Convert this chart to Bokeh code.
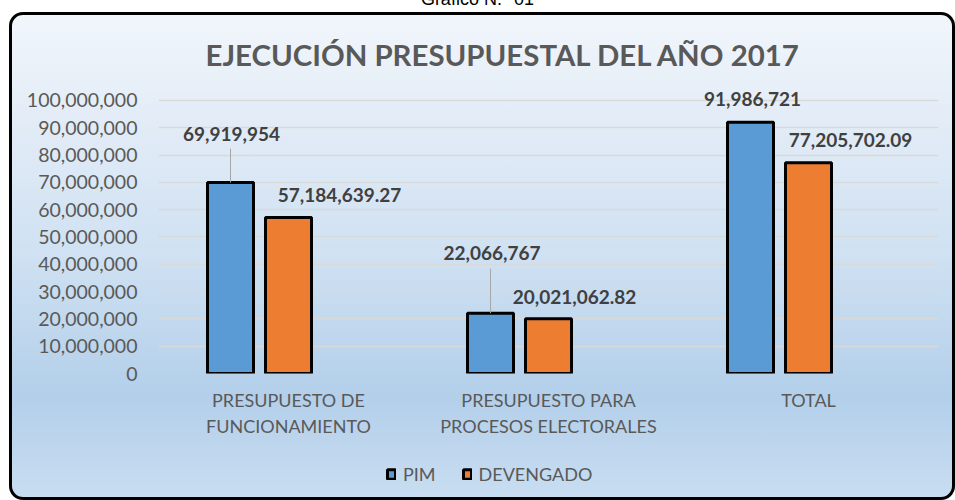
from bokeh.plotting import figure
from bokeh.models import (FactorRange, FixedTicker, NumeralTickFormatter, Legend,
                          LegendItem, ColumnDataSource, Div, Title)
from bokeh.transform import dodge
from bokeh.core.properties import value
from bokeh.layouts import column
from bokeh.embed import file_html
from bokeh.resources import INLINE

# ---------------- data ----------------
categories = ["PRESUPUESTO DE\nFUNCIONAMIENTO",
              "PRESUPUESTO PARA\nPROCESOS ELECTORALES",
              "TOTAL"]
pim = [69919954, 22066767, 91986721]
devengado = [57184639.27, 20021062.82, 77205702.09]
series_names = ["PIM", "DEVENGADO"]
y_ticks = [0, 10000000, 20000000, 30000000, 40000000, 50000000,
           60000000, 70000000, 80000000, 90000000, 100000000]
title_text = "EJECUCIÓN PRESUPUESTAL DEL AÑO 2017"
caption_text = "Gráfico N.° 01"

# ---------------- layout / style ----------------
FONT = "Lato"
BLUE, ORANGE = "#5b9bd5", "#ed7d31"
GRAY_TXT, DARK_TXT = "#595959", "#404040"
Y_END = 105860000
FRAME_H = 289
PX = Y_END / FRAME_H          # data units per pixel
PIM_DODGE, DEV_DODGE = -0.223, 0.0
BAR_W = 0.177
# label offsets (px): dx, dy from bar top
pim_dx = [1, 1.5, 2]
pim_dy = [-48.7, -59.8, -23.6]
dev_dx = [51, 26, 42]
dev_dy = [-22.5, -22, -23.2]
leader_px = [34, 44.5, 0]

pim_txt = [f"{v:,.0f}" for v in pim]
dev_txt = [f"{v:,.2f}" for v in devengado]

src = ColumnDataSource(dict(
    cat=categories, pim=pim, dev=devengado,
    pim_txt=pim_txt, dev_txt=dev_txt,
    pim_dx=pim_dx, pim_dy=pim_dy, dev_dx=dev_dx, dev_dy=dev_dy,
    lead_top=[v + l * PX for v, l in zip(pim, leader_px)],
))

p = figure(x_range=FactorRange(factors=categories, range_padding=0),
           y_range=(0, Y_END), width=940, height=440,
           output_backend="svg", toolbar_location=None,
           min_border_left=146, min_border_right=14,
           min_border_top=69, min_border_bottom=82)
p.background_fill_color = None
p.border_fill_color = None
p.outline_line_color = None

t = Title(text=title_text, align="left", offset=47, text_font=FONT,
          text_font_size="29.4px", text_font_style="bold", text_color=GRAY_TXT,
          standoff=25)
p.add_layout(t, "above")

r_pim = p.vbar(x=dodge("cat", PIM_DODGE, range=p.x_range), top="pim", width=BAR_W,
               source=src, fill_color=BLUE, line_color="black", line_width=3)
r_dev = p.vbar(x=dodge("cat", DEV_DODGE, range=p.x_range), top="dev", width=BAR_W,
               source=src, fill_color=ORANGE, line_color="black", line_width=3)

p.segment(x0=dodge("cat", PIM_DODGE, range=p.x_range), y0="pim",
          x1=dodge("cat", PIM_DODGE, range=p.x_range), y1="lead_top",
          source=src, line_color="#a6a6a6", line_width=1)

p.text(x=dodge("cat", PIM_DODGE, range=p.x_range), y="pim", text="pim_txt",
       x_offset="pim_dx", y_offset="pim_dy", source=src,
       text_font=value(FONT), text_font_size="19px", text_font_style="bold",
       text_color=DARK_TXT, text_align="center", text_baseline="middle")
p.text(x=dodge("cat", DEV_DODGE, range=p.x_range), y="dev", text="dev_txt",
       x_offset="dev_dx", y_offset="dev_dy", source=src,
       text_font=value(FONT), text_font_size="19px", text_font_style="bold",
       text_color=DARK_TXT, text_align="center", text_baseline="middle")

p.yaxis.ticker = FixedTicker(ticks=y_ticks)
p.yaxis.formatter = NumeralTickFormatter(format="0,0")
for ax in (p.xaxis, p.yaxis):
    ax.axis_line_color = None
    ax.major_tick_line_color = None
    ax.minor_tick_line_color = None
    ax.major_tick_out = 0
    ax.major_tick_in = 0
    ax.major_label_text_font = FONT
    ax.major_label_text_color = GRAY_TXT
p.yaxis.major_label_text_font_size = "19.5px"
p.yaxis.major_label_standoff = 21
p.xaxis.major_label_text_font_size = "18px"
p.xaxis.major_label_standoff = 15

p.xgrid.grid_line_color = None
p.ygrid.grid_line_color = "#d9d9d9"
p.ygrid.grid_line_width = 1.5

# ---------------- legend strip ----------------
q = figure(x_range=(0, 1), y_range=(0, 1), width=940, height=42,
           output_backend="svg", toolbar_location=None,
           x_axis_type=None, y_axis_type=None,
           min_border=0, min_border_left=0, min_border_right=0,
           min_border_top=0, min_border_bottom=0)
q.background_fill_color = None
q.border_fill_color = None
q.outline_line_color = None
q.xgrid.grid_line_color = None
q.ygrid.grid_line_color = None
# swatch-only renderers: hidden, used only to draw the legend keys
swatch = ColumnDataSource(dict(x=[0.5], top=[0.5]))
lg_pim = q.vbar(x="x", top="top", width=0.01, source=swatch,
                fill_color=BLUE, line_color="black", line_width=3, visible=False)
lg_dev = q.vbar(x="x", top="top", width=0.01, source=swatch,
                fill_color=ORANGE, line_color="black", line_width=3, visible=False)
legend = Legend(items=[LegendItem(label=series_names[0], renderers=[lg_pim]),
                       LegendItem(label=series_names[1], renderers=[lg_dev])],
                location=(228, 12), orientation="horizontal",
                glyph_width=10, glyph_height=12, label_standoff=7, spacing=26,
                padding=0, margin=0, border_line_color=None,
                background_fill_alpha=0, inactive_fill_alpha=0,
                label_text_font=FONT,
                label_text_font_size="18px", label_text_color=GRAY_TXT)
q.add_layout(legend, "center")

box = column(p, q, spacing=0, styles={
    "margin-left": "9px",
    "border": "3px solid #000",
    "border-radius": "14px",
    "overflow": "hidden",
    "background": "linear-gradient(to bottom, #f1f6fb 0%, #e4edf7 20%, #cfe1f2 50%, #b3cfea 79%, #c8ddf1 100%)",
})

cap = Div(text=('<div style="position:absolute;left:0;top:-11px;width:955px;text-align:center;'
                'font-family:Arial,\'Liberation Sans\';font-size:18px;line-height:20px;'
                'color:#000;white-space:nowrap">' + caption_text + '</div>'),
          width=955, height=12, margin=0,
          styles={"overflow": "visible", "position": "relative"})

layout = column(cap, box, spacing=0)
open("out.html", "w").write(file_html(layout, INLINE))
